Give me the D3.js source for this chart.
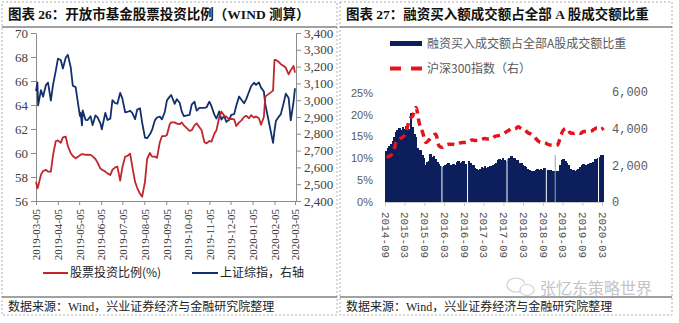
<!DOCTYPE html>
<html><head><meta charset="utf-8">
<script src="https://cdn.jsdelivr.net/npm/d3@7"></script>
<style>body{margin:0;background:#fff}svg{display:block}</style>
</head><body>
<svg id="c" width="679" height="323"></svg>
<script>
// ---------- Left chart data (图表26) ----------
const leftDates = ["2019-03-05","2019-03-07","2019-03-08","2019-03-12","2019-03-15","2019-03-19","2019-03-22","2019-03-26","2019-03-29",
"2019-04-02","2019-04-05","2019-04-09","2019-04-12","2019-04-16","2019-04-19","2019-04-23","2019-04-26","2019-04-30",
"2019-05-06","2019-05-07","2019-05-09","2019-05-10","2019-05-14","2019-05-17","2019-05-21","2019-05-24","2019-05-28","2019-05-31",
"2019-06-04","2019-06-06","2019-06-11","2019-06-14","2019-06-18","2019-06-21","2019-06-25","2019-06-28",
"2019-07-02","2019-07-05","2019-07-09","2019-07-12","2019-07-16","2019-07-19","2019-07-23","2019-07-26","2019-07-30",
"2019-08-02","2019-08-06","2019-08-09","2019-08-13","2019-08-16","2019-08-20","2019-08-23","2019-08-27","2019-08-30",
"2019-09-03","2019-09-06","2019-09-10","2019-09-12","2019-09-17","2019-09-20","2019-09-24","2019-09-27","2019-09-30",
"2019-10-08","2019-10-11","2019-10-15","2019-10-18","2019-10-22","2019-10-25","2019-10-29",
"2019-11-01","2019-11-05","2019-11-08","2019-11-12","2019-11-15","2019-11-19","2019-11-22","2019-11-26","2019-11-29",
"2019-12-03","2019-12-06","2019-12-10","2019-12-13","2019-12-17","2019-12-20","2019-12-24","2019-12-27","2019-12-31",
"2020-01-03","2020-01-07","2020-01-10","2020-01-14","2020-01-17","2020-01-21","2020-01-23",
"2020-02-03","2020-02-05","2020-02-07","2020-02-11","2020-02-14","2020-02-18","2020-02-21","2020-02-25","2020-02-28",
"2020-03-03","2020-03-05"];
const stockRatio = [57.6,57.06,57.2,58.2,58.5,58.6,58.45,58.45,59.8,
61.0,61.05,60.85,61.3,61.36,60.6,60.0,59.75,59.56,
59.8,59.85,59.9,59.9,59.85,59.86,59.85,59.72,59.5,59.2,
58.7,58.62,58.45,58.3,58.17,58.6,58.8,58.86,
57.7,58.8,59.7,59.75,59.95,58.9,57.6,57.1,56.6,
56.36,57.6,59.5,60.0,59.7,59.7,59.6,60.9,61.4,
61.4,61.5,62.4,62.55,62.55,62.45,62.4,62.55,62.3,
61.85,61.9,62.3,62.47,62.15,61.9,60.9,
60.8,61.0,60.95,61.6,61.9,63.0,63.45,63.1,63.03,
62.8,62.85,62.8,62.25,62.55,62.7,63.0,63.1,62.9,
63.15,62.95,63.05,62.9,62.35,63.0,64.7,
65.2,67.75,67.75,67.6,67.4,67.25,67.1,66.55,66.9,
67.25,66.7];
const sseIndex = [3054,3106,2969,3060,3021,3090,3104,2997,3090,
3176,3247,3239,3189,3253,3270,3198,3086,3078,
2906,2926,2850,2939,2883,2882,2905,2852,2909,2898,
2862,2827,2925,2882,2890,3001,2982,2979,
3044,3011,2928,2930,2937,2924,2887,2944,2952,
2867,2777,2774,2797,2823,2880,2897,2902,2886,
2930,2999,3021,3031,2978,3006,2985,2932,2905,
2913,2973,2991,2938,2954,2954,2954,
2958,2991,2964,2914,2891,2933,2885,2906,2871,
2884,2912,2917,2967,3022,3004,2982,3005,3050,
3083,3104,3092,3106,3075,3052,2977,
2746,2818,2876,2901,2917,2984,3039,3013,2880,
2992,3071];
const leftTickLabels = ["2019-03-05","2019-04-05","2019-05-05","2019-06-05","2019-07-05","2019-08-05","2019-09-05",
"2019-10-05","2019-11-05","2019-12-05","2020-01-05","2020-02-05","2020-03-05"];
const ratioTicks = [56,58,60,62,64,66,68,70];
const sseTicks = [2400,2500,2600,2700,2800,2900,3000,3100,3200,3300,3400];

// ---------- Right chart data (图表27) ----------
const marginMonths = ["2014-09","2014-10","2014-11","2014-12",
"2015-01","2015-02","2015-03","2015-04","2015-05","2015-06","2015-07","2015-08","2015-09","2015-10","2015-11","2015-12",
"2016-01","2016-02","2016-03","2016-04","2016-05","2016-06","2016-07","2016-08","2016-09","2016-10","2016-11","2016-12",
"2017-01","2017-02","2017-03","2017-04","2017-05","2017-06","2017-07","2017-08","2017-09","2017-10","2017-11","2017-12",
"2018-01","2018-02","2018-03","2018-04","2018-05","2018-06","2018-07","2018-08","2018-09","2018-10","2018-11","2018-12",
"2019-01","2019-02","2019-03","2019-04","2019-05","2019-06","2019-07","2019-08","2019-09","2019-10","2019-11","2019-12",
"2020-01","2020-02","2020-03"];
// margin buying share of A-share turnover (%), first half / second half of each month
const marginShareH1 = [11.8,12.8,14.0,16.0,
17.0,17.2,17.5,16.8,17.2,15.0,10.5,10.8,8.5,9.5,10.3,9.8,
8.8,8.0,8.6,8.9,8.3,8.5,9.3,9.1,8.7,9.5,8.6,7.9,
7.4,8.0,8.2,8.0,8.2,8.8,9.6,9.6,9.7,9.8,10.6,10.1,
9.6,8.9,8.2,7.6,7.1,7.2,7.5,7.6,7.8,7.3,7.4,7.0,
7.0,8.5,9.8,9.0,7.6,7.4,7.3,8.0,8.8,8.5,9.0,9.2,
9.8,10.4,10.8];
const marginShareH2 = [12.3,13.2,14.8,16.5,
16.4,16.8,17.0,20.3,15.5,12.5,12.0,10.0,9.2,11.0,10.5,9.2,
8.2,8.3,8.8,8.6,8.7,9.2,9.0,9.4,8.5,9.0,8.4,7.5,
7.6,7.8,7.9,8.3,8.6,9.0,9.8,10.0,9.5,10.1,9.9,9.6,
9.0,8.6,8.0,7.3,7.0,7.4,7.3,7.4,7.6,7.1,7.2,7.2,
6.9,9.6,9.5,8.4,7.2,7.1,7.6,8.6,8.6,8.8,8.9,9.8,
10.0,10.7,null];
const marginLastDay = "2020-03-06";
// 沪深300 monthly level
const hs300 = [2450,2510,2700,3300,
3450,3550,3800,4500,4700,5150,4300,3800,3250,3400,3600,3700,
3050,2980,3100,3150,3150,3120,3200,3250,3250,3280,3380,3350,
3350,3430,3460,3430,3450,3580,3620,3680,3780,3880,4000,3980,
4100,4000,3950,3780,3700,3550,3350,3250,3250,3150,3100,3080,
3120,3650,3950,4000,3750,3750,3800,3750,3850,3850,3850,3950,
4050,3950,4050];
const holidayGaps = ["2016-02-10","2016-10-04","2017-10-04","2018-10-03","2020-01-29"];
const lightSpikes = [["2018-12-24",10.8]];
const rightTickLabels = ["2014-09","2015-03","2015-09","2016-03","2016-09","2017-03","2017-09","2018-03","2018-09","2019-03","2019-09","2020-03"];
const shareTicks = [0,5,10,15,20,25];
const hsTicks = [0,2000,4000,6000];

// ---------- drawing ----------
const svg = d3.select("#c");
const parse = d3.timeParse("%Y-%m-%d");
const parseM = d3.timeParse("%Y-%m");
const CJK = "'Noto Sans CJK SC', sans-serif";
const SERIF_CJK = "'Liberation Serif','Noto Sans CJK SC', serif";

// panels
function panel(x0, x1, title, footer) {
  svg.append("rect").attr("x", x0).attr("y", 2).attr("width", x1 - x0).attr("height", 313)
    .attr("fill", "none").attr("stroke", "#9a9a9a").attr("stroke-dasharray", "2,2").attr("stroke-width", 0.8);
  svg.append("line").attr("x1", x0).attr("x2", x1).attr("y1", 27).attr("y2", 27).attr("stroke", "#444").attr("stroke-width", 1);
  svg.append("line").attr("x1", x0).attr("x2", x1).attr("y1", 297).attr("y2", 297).attr("stroke", "#444").attr("stroke-width", 1);
  svg.append("text").attr("x", x0 + 6).attr("y", 14).attr("dy", "0.35em")
    .style("font-family", SERIF_CJK).style("font-weight", "bold").style("font-size", "13.5px").attr("fill", "#111").text(title);
  svg.append("text").attr("x", x0 + 6).attr("y", 307).attr("dy", "0.35em")
    .style("font-family", SERIF_CJK).style("font-size", "12px").attr("fill", "#222").text(footer);
}
panel(2, 337, "图表 26：开放市基金股票投资比例（WIND 测算）", "数据来源：Wind，兴业证券经济与金融研究院整理");
panel(340, 672, "图表 27：融资买入额成交额占全部 A 股成交额比重", "数据来源：Wind，兴业证券经济与金融研究院整理");

// ----- Left chart -----
const ld = leftDates.map(parse);
const xL = d3.scaleTime().domain([parse("2019-03-05"), parse("2020-03-05")]).range([36, 295]);
const yL = d3.scaleLinear().domain([56, 70]).range([201, 33]);
const yR = d3.scaleLinear().domain([2400, 3400]).range([201, 33]);

function styleAxis(g, color, font, size, fill) {
  g.select(".domain").attr("stroke", color);
  g.selectAll(".tick line").attr("stroke", color);
  g.selectAll(".tick text").style("font-family", font).style("font-size", size).attr("fill", fill);
}
const axL = svg.append("g").attr("transform", "translate(36,0)")
  .call(d3.axisLeft(yL).tickValues(ratioTicks).tickSize(5).tickSizeOuter(0).tickPadding(3).tickFormat(d => d));
styleAxis(axL, "#8c8c8c", "'Liberation Serif', serif", "13px", "#404040");
const axR = svg.append("g").attr("transform", "translate(296,0)")
  .call(d3.axisRight(yR).tickValues(sseTicks).tickSize(5).tickSizeOuter(0).tickPadding(3).tickFormat(d3.format(",")));
styleAxis(axR, "#8c8c8c", "'Liberation Serif', serif", "13px", "#404040");
const axB = svg.append("g").attr("transform", "translate(0,201)")
  .call(d3.axisBottom(xL).tickValues(leftTickLabels.map(parse)).tickSize(4).tickSizeOuter(0).tickFormat((d, i) => leftTickLabels[i]));
styleAxis(axB, "#8c8c8c", "'Liberation Serif', serif", "11px", "#333");
axB.selectAll(".tick text").attr("transform", "rotate(-90)").attr("x", -8).attr("y", 0).attr("dy", "0.35em").style("text-anchor", "end");

const lineRatio = d3.line().x((d, i) => xL(ld[i])).y(d => yL(d));
const lineSse = d3.line().x((d, i) => xL(ld[i])).y(d => yR(d));
svg.append("path").attr("d", lineSse(sseIndex)).attr("fill", "none").attr("stroke", "#12306e").attr("stroke-width", 1.8).attr("stroke-linejoin", "round");
svg.append("path").attr("d", lineRatio(stockRatio)).attr("fill", "none").attr("stroke", "#c0272d").attr("stroke-width", 1.8).attr("stroke-linejoin", "round");

// left legend
svg.append("line").attr("x1", 43).attr("x2", 68).attr("y1", 273).attr("y2", 273).attr("stroke", "#c0272d").attr("stroke-width", 2);
svg.append("text").attr("x", 70).attr("y", 273).attr("dy", "0.35em").style("font-family", CJK).style("font-size", "12px").attr("fill", "#222").text("股票投资比例(%)");
svg.append("line").attr("x1", 192).attr("x2", 218).attr("y1", 273).attr("y2", 273).attr("stroke", "#12306e").attr("stroke-width", 2);
svg.append("text").attr("x", 220).attr("y", 273).attr("dy", "0.35em").style("font-family", CJK).style("font-size", "12px").attr("fill", "#222").text("上证综指，右轴");

// ----- Right chart -----
const xr = d3.scaleTime().domain([parseM("2014-09"), parseM("2020-03")]).range([385, 602]);
const yP = d3.scaleLinear().domain([0, 25]).range([202, 93]);
const yH = d3.scaleLinear().domain([0, 6000]).range([202, 92]);

// build half-month bars
const bars = [];
marginMonths.forEach((m, i) => {
  const s = parseM(m);
  const mid = d3.timeDay.offset(s, 15);
  const nxt = i + 1 < marginMonths.length ? parseM(marginMonths[i + 1]) : parse(marginLastDay);
  if (marginShareH2[i] == null) {
    bars.push({ a: s, b: parse(marginLastDay), v: marginShareH1[i] });
  } else {
    bars.push({ a: s, b: mid, v: marginShareH1[i] });
    bars.push({ a: mid, b: nxt, v: marginShareH2[i] });
  }
});
svg.append("g").attr("shape-rendering", "crispEdges").selectAll("rect").data(bars).join("rect")
  .attr("x", d => xr(d.a)).attr("width", d => xr(d.b) - xr(d.a) + 1)
  .attr("y", d => yP(d.v)).attr("height", d => yP(0) - yP(d.v)).attr("fill", "#0c1f5c");
svg.append("g").selectAll("rect").data(lightSpikes).join("rect")
  .attr("x", d => xr(parse(d[0])) - 0.5).attr("width", 1)
  .attr("y", d => yP(d[1])).attr("height", d => yP(0) - yP(d[1])).attr("fill", "#9aa4bd");
svg.append("g").selectAll("line").data(holidayGaps).join("line")
  .attr("x1", d => xr(parse(d))).attr("x2", d => xr(parse(d)))
  .attr("y1", yP(0)).attr("y2", yP(22)).attr("stroke", "#fff").attr("stroke-width", 1);

// x axis
const axRB = svg.append("g").attr("transform", "translate(0,202)")
  .call(d3.axisBottom(xr).tickValues(rightTickLabels.map(parseM)).tickSize(4).tickSizeOuter(0).tickFormat((d, i) => rightTickLabels[i]));
styleAxis(axRB, "#c8c8c8", "'Liberation Mono', monospace", "11px", "#555");
axRB.selectAll(".tick text").attr("transform", "rotate(90)").attr("x", 10).attr("y", 0).attr("dy", "0.35em").style("text-anchor", "start");

// y labels
svg.append("g").selectAll("text").data(shareTicks).join("text")
  .attr("x", 373).attr("y", d => yP(d)).attr("dy", "0.35em").attr("text-anchor", "end")
  .style("font-family", "'Liberation Sans', sans-serif").style("font-size", "11px").attr("fill", "#595959").text(d => d + "%");
svg.append("g").selectAll("text").data(hsTicks).join("text")
  .attr("x", 612).attr("y", d => yH(d)).attr("dy", "0.35em").attr("text-anchor", "start")
  .style("font-family", "'Liberation Mono', monospace").style("font-size", "12px").attr("fill", "#595959").text(d => d3.format(",")(d));

// HS300 dashed line
const hsLine = d3.line().x((d, i) => xr(d3.timeDay.offset(parseM(marginMonths[i]), 14))).y(d => yH(d)).curve(d3.curveMonotoneX);
svg.append("path").attr("d", hsLine(hs300)).attr("fill", "none").attr("stroke", "#e3141c")
  .attr("stroke-width", 3.5).attr("stroke-dasharray", "7,5");

// right legend
svg.append("rect").attr("x", 390).attr("y", 41).attr("width", 32).attr("height", 5).attr("fill", "#0c1f5c");
svg.append("text").attr("x", 427).attr("y", 43.5).attr("dy", "0.35em").style("font-family", CJK).style("font-size", "12px").attr("fill", "#595959").text("融资买入成交额占全部A股成交额比重");
svg.append("line").attr("x1", 390).attr("x2", 401).attr("y1", 68.5).attr("y2", 68.5).attr("stroke", "#e3141c").attr("stroke-width", 4);
svg.append("line").attr("x1", 411).attr("x2", 422).attr("y1", 68.5).attr("y2", 68.5).attr("stroke", "#e3141c").attr("stroke-width", 4);
svg.append("text").attr("x", 427).attr("y", 68.5).attr("dy", "0.35em").style("font-family", CJK).style("font-size", "12px").attr("fill", "#595959").text("沪深300指数（右）");

// watermark
svg.append("ellipse").attr("cx", 516).attr("cy", 285).attr("rx", 9).attr("ry", 7).attr("fill", "#fff").attr("stroke", "#d0d0d0").attr("stroke-width", 1.2);
svg.append("ellipse").attr("cx", 527).attr("cy", 290).attr("rx", 7).attr("ry", 5.5).attr("fill", "#fff").attr("stroke", "#d0d0d0").attr("stroke-width", 1.2);
svg.append("text").attr("x", 540).attr("y", 288).attr("dy", "0.35em").style("font-family", CJK).style("font-size", "16px").attr("fill", "#c4c4c4").text("张忆东策略世界");
</script>
</body></html>
